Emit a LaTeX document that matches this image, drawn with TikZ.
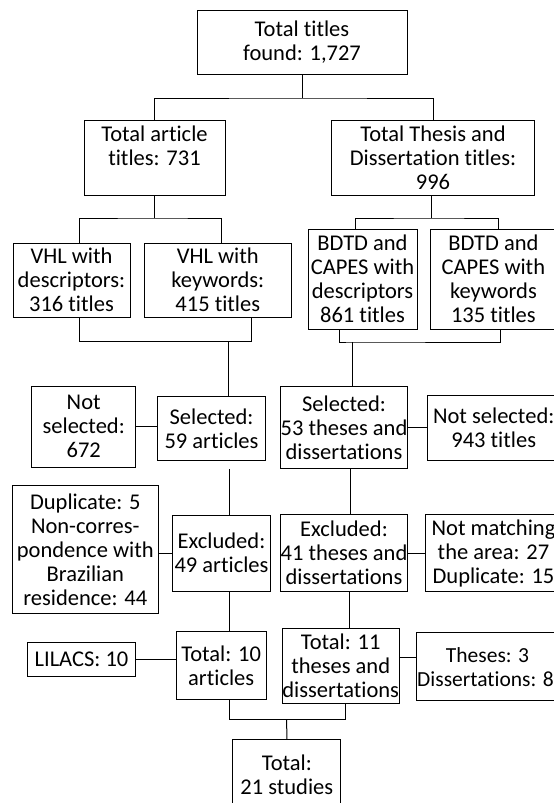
\documentclass[tikz,border=0pt]{standalone}
\usepackage{fontspec}
\setmainfont[Ligatures=NoCommon]{Carlito}
\tikzset{
  box/.style={draw, line width=1pt, align=center, inner sep=0pt,
    font=\fontsize{22.5}{24}\selectfont},
  conn/.style={line width=1pt},
}
\begin{document}
\begin{tikzpicture}[x=1pt,y=-1pt]
\useasboundingbox (0,0) rectangle (554,803);
\node[box, minimum width=210, minimum height=64] (top) at (302,42) {Total titles\\found: 1,727};
\node[box, minimum width=141, minimum height=75] (art) at (154.5,157.5) {Total article\\titles: 731\\\mbox{}};
\node[box, minimum width=203, minimum height=75] (thes) at (433,157.5) {Total Thesis and\\Dissertation titles:\\996};
\node[box, minimum width=117, minimum height=74] (vhld) at (71.5,280) {VHL with\\descriptors:\\316 titles};
\node[box, minimum width=147, minimum height=74] (vhlk) at (217.8,280) {VHL with\\keywords:\\415 titles};
\node[box, minimum width=109, minimum height=100] (bdtdd) at (362.5,279) {BDTD and\\CAPES with\\descriptors\\861 titles};
\node[box, minimum width=125, minimum height=100] (bdtdk) at (493.4,279) {BDTD and\\CAPES with\\keywords\\135 titles};
\node[box, minimum width=104, minimum height=81] (ns672) at (83.7,426.7) {Not\\selected:\\672};
\node[box, minimum width=108, minimum height=64] (sel59) at (211.5,428.7) {Selected:\\59 articles};
\node[box, minimum width=127, minimum height=82] (sel53) at (344,427.7) {Selected:\\53 theses and\\dissertations};
\node[box, minimum width=133, minimum height=65] (ns943) at (493.7,428) {Not selected:\\943 titles};
\node[box, minimum width=146, minimum height=128] (dup) at (85.3,549.9) {Duplicate: 5\\Non-corres-\\pondence with\\Brazilian\\residence: 44};
\node[box, minimum width=98.4, minimum height=76] (exc49) at (221.5,553) {Excluded:\\49 articles};
\node[box, minimum width=127, minimum height=77.4] (exc41) at (344,553) {Excluded:\\41 theses and\\dissertations};
\node[box, minimum width=137, minimum height=77.4] (nm) at (493.5,553) {Not matching\\the area: 27\\Duplicate: 15};
\node[box, minimum width=108, minimum height=34.4] (lil) at (81.5,659.5) {LILACS: 10};
\node[box, minimum width=90.3, minimum height=67.6] (tot10) at (221.2,665.5) {Total: 10\\articles};
\node[box, minimum width=114, minimum height=75] (tot11) at (340.7,665.8) {Total: 11\\theses and\\dissertations};
\node[box, minimum width=143, minimum height=68, font=\fontsize{21.5}{24}\selectfont] (th3) at (487.5,666.7) {Theses: 3\\Dissertations: 8\hspace*{4pt}};
\node[box, minimum width=108.3, minimum height=71] (tot21) at (286.8,775) {Total:\\21 studies};
% joints
\coordinate (j1) at (302,98);
\coordinate (j2) at (155,218);
\coordinate (j3) at (431,218);
\coordinate (j4) at (228.2,341.7);
\coordinate (j5) at (352,342);
\coordinate (j6) at (286.7,719.7);
% connectors
\draw[conn] (top.south) -- (j1);
\draw[conn] (art.north) |- (j1) -| (thes.north);
\draw[conn] (art.south) -- (art.south |- j2);
\draw[conn] ([xshift=8]vhld.north) |- (j2) -| ([xshift=3.2]vhlk.north);
\draw[conn] (thes.south -| j3) -- (j3);
\draw[conn] ([xshift=-7.5]bdtdd.north) |- (j3) -| ([xshift=5]bdtdk.north);
\draw[conn] ([xshift=8]vhld.south) |- (j4) -| ([xshift=33.4]vhlk.south);
\draw[conn] (j4) -- (sel59.north -| j4);
\draw[conn] ([xshift=-22.8]bdtdd.south) |- (j5) -| ([xshift=7]bdtdk.south);
\draw[conn] (j5) -- (sel53.north -| j5);
\draw[conn] ([yshift=2]sel59.west) -- ([yshift=2]sel59.west -| ns672.east);
\draw[conn] (sel53.east) -- (sel53.east -| ns943.west);
\draw[conn, shorten >=8pt] ([xshift=7.5]exc49.north) -- ([xshift=7.5]exc49.north |- sel59.south);
\draw[conn] (exc49.west) -- (exc49.west -| dup.east);
\draw[conn] ([xshift=6.3]sel53.south) -- ([xshift=6.3]sel53.south |- exc41.north);
\draw[conn] (exc41.east) -- (exc41.east -| nm.west);
\draw[conn] ([xshift=8]exc49.south) -- ([xshift=8]exc49.south |- tot10.north);
\draw[conn] (lil.east) -- (lil.east -| tot10.west);
\draw[conn] ([xshift=5.3]exc41.south) -- ([xshift=5.3]exc41.south |- tot11.north);
\draw[conn] ([yshift=8]tot11.east) -- ([yshift=8]tot11.east -| th3.west);
\draw[conn] ([xshift=8]tot10.south) |- (j6) -| ([xshift=4.3]tot11.south);
\draw[conn] (j6) -- (tot21.north);
\end{tikzpicture}
\end{document}
